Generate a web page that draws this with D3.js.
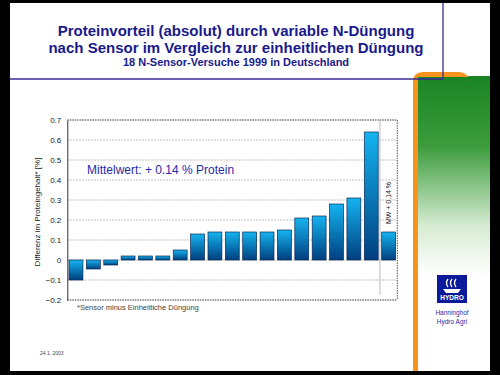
<!DOCTYPE html>
<html><head><meta charset="utf-8">
<script src="https://cdn.jsdelivr.net/npm/d3@7/dist/d3.min.js"></script>
<style>html,body{margin:0;padding:0;background:#000;}svg{display:block;font-family:Arial,"Liberation Sans",sans-serif;}</style>
</head><body>
<script>
const categories = ["V1","V2","V3","V4","V5","V6","V7","V8","V9","V10","V11","V12","V13","V14","V15","V16","V17","V18","MW"];
const values = [-0.10,-0.045,-0.025,0.02,0.02,0.02,0.05,0.13,0.14,0.14,0.14,0.14,0.15,0.21,0.22,0.28,0.31,0.64,0.14];
const yTicks = [0.7,0.6,0.5,0.4,0.3,0.2,0.1,0,-0.1,-0.2];
const titleLines = ["Proteinvorteil (absolut) durch variable N-Düngung","nach Sensor im Vergleich zur einheitlichen Düngung"];
const subtitle = "18 N-Sensor-Versuche 1999 in Deutschland";

const W=500,H=375;
const svg=d3.select("body").append("svg").attr("width",W).attr("height",H);
const defs=svg.append("defs");
const bg=defs.append("linearGradient").attr("id","barG").attr("x1",0).attr("y1",0).attr("x2",0).attr("y2",1);
bg.append("stop").attr("offset","0%").attr("stop-color","#14b4f0");
bg.append("stop").attr("offset","100%").attr("stop-color","#003f7f");
const gg=defs.append("linearGradient").attr("id","greenG").attr("x1",0).attr("y1",0).attr("x2",0).attr("y2",1);
gg.append("stop").attr("offset","0%").attr("stop-color","#1a8424");
gg.append("stop").attr("offset","35%").attr("stop-color","#3c9c3c");
gg.append("stop").attr("offset","75%").attr("stop-color","#d6ecd2");
gg.append("stop").attr("offset","100%").attr("stop-color","#ffffff");

svg.append("rect").attr("width",W).attr("height",H).attr("fill","#000");
svg.append("rect").attr("x",10).attr("y",3).attr("width",480).attr("height",368).attr("fill","#fff");

// right decoration
svg.append("rect").attr("x",418).attr("y",76).attr("width",72).attr("height",200).attr("fill","url(#greenG)");
svg.append("path").attr("d","M415.5,371 L415.5,82 Q415.5,74.5 423,74.5 L458,74.5 Q464,74.5 467,79")
  .attr("fill","none").attr("stroke","#f7941d").attr("stroke-width",5);
svg.append("rect").attr("x",418).attr("y",77).attr("width",72).attr("height",3).attr("fill","#1a8424");

// header lines
svg.append("line").attr("x1",10).attr("x2",443).attr("y1",79).attr("y2",79).attr("stroke","#3a2a9a").attr("stroke-width",1.3);
svg.append("line").attr("x1",443).attr("x2",443).attr("y1",3).attr("y2",79).attr("stroke","#3a2a9a").attr("stroke-width",1.3);

// title
svg.append("text").attr("x",236).attr("y",36).attr("text-anchor","middle").attr("font-weight","bold").attr("font-size",15).attr("fill","#1a1a8c").text(titleLines[0]);
svg.append("text").attr("x",236).attr("y",53).attr("text-anchor","middle").attr("font-weight","bold").attr("font-size",15).attr("fill","#1a1a8c").text(titleLines[1]);
svg.append("text").attr("x",236).attr("y",66).attr("text-anchor","middle").attr("font-weight","bold").attr("font-size",11).attr("fill","#1a1a8c").text(subtitle);

// chart
const x0=67.3,x1=397.3,yTop=120,yBot=300;
const x=d3.scaleBand().domain(categories).range([x0,x1]).paddingInner(0.2).paddingOuter(0.1);
const y=d3.scaleLinear().domain([-0.2,0.7]).range([yBot,yTop]);

const g=svg.append("g");
// gridlines
g.selectAll("line.grid").data(yTicks.filter(t=>t!==0.7 && t!==-0.2)).enter().append("line")
  .attr("x1",x0).attr("x2",x1).attr("y1",d=>y(d)).attr("y2",d=>y(d))
  .attr("stroke","#999").attr("stroke-width",0.8).attr("stroke-dasharray","1.5,1.5");
// border
g.append("line").attr("x1",x0).attr("x2",x1).attr("y1",yTop).attr("y2",yTop).attr("stroke","#333").attr("stroke-dasharray","1.5,1");
g.append("line").attr("x1",x0).attr("x2",x1).attr("y1",yBot).attr("y2",yBot).attr("stroke","#333").attr("stroke-dasharray","1.5,1");
g.append("line").attr("x1",x1).attr("x2",x1).attr("y1",yTop).attr("y2",yBot).attr("stroke","#555").attr("stroke-dasharray","1.5,1");

// divider before MW
const divX = x("MW") - x.step()*x.paddingInner()/2;
g.append("line").attr("x1",divX).attr("x2",divX).attr("y1",yTop).attr("y2",yBot-5).attr("stroke","#aaa").attr("stroke-width",0.8);

// y axis
const yAxis=d3.axisLeft(y).tickValues(yTicks).tickSize(0).tickPadding(6).tickFormat(d=>d===0?"0":d3.format(".1f")(d));
const ya=g.append("g").attr("transform",`translate(${x0},0)`).call(yAxis);
ya.select(".domain").attr("stroke","#333");
ya.selectAll("text").attr("font-size",8).attr("fill","#222").attr("font-family","Arial, 'Liberation Sans', sans-serif");

// bars
g.selectAll("rect.bar").data(values).enter().append("rect")
  .attr("x",(d,i)=>x(categories[i])).attr("width",x.bandwidth())
  .attr("y",d=>y(Math.max(0,d))).attr("height",d=>Math.abs(y(d)-y(0)))
  .attr("fill","url(#barG)").attr("stroke","#0a2a55").attr("stroke-width",0.7);

// labels
svg.append("text").attr("transform",`translate(40,${(yTop+yBot)/2+2}) rotate(-90)`).attr("text-anchor","middle")
  .attr("font-size",8).attr("fill","#222").text("Differenz im Proteingehalt* [%]");
svg.append("text").attr("x",87).attr("y",174).attr("font-size",12).attr("fill","#2a2aa8").text("Mittelwert: + 0.14 % Protein");
svg.append("text").attr("transform",`translate(391,203) rotate(-90)`).attr("text-anchor","middle")
  .attr("font-size",7).attr("fill","#222").text("MW + 0.14 %");
svg.append("text").attr("x",77).attr("y",310).attr("font-size",7.5).attr("fill","#444").text("*Sensor minus Einheitliche Düngung");
svg.append("text").attr("x",40).attr("y",355).attr("font-size",5).attr("fill","#444").text("24.1. 2003");

// logo
const lg=svg.append("g").attr("transform","translate(437,275)");
lg.append("rect").attr("width",30).attr("height",28).attr("fill","#0a1a9a");
lg.append("path").attr("d","M11,4 q-3,4 0,8 M15,4 q-3,4 0,8 M19,4 q-3,4 0,8").attr("fill","none").attr("stroke","#fff").attr("stroke-width",1.3);
lg.append("path").attr("d","M6,14 L24,14 L21,18 L9,18 Z").attr("fill","#fff");
lg.append("text").attr("x",15).attr("y",25).attr("text-anchor","middle").attr("font-size",6.5).attr("font-weight","bold").attr("fill","#fff").text("HYDRO");
svg.append("text").attr("x",452).attr("y",315).attr("text-anchor","middle").attr("font-size",6.5).attr("fill","#2a2aa8").text("Hanninghof");
svg.append("text").attr("x",452).attr("y",324).attr("text-anchor","middle").attr("font-size",6.5).attr("fill","#2a2aa8").text("Hydro Agri");
</script>
</body></html>
